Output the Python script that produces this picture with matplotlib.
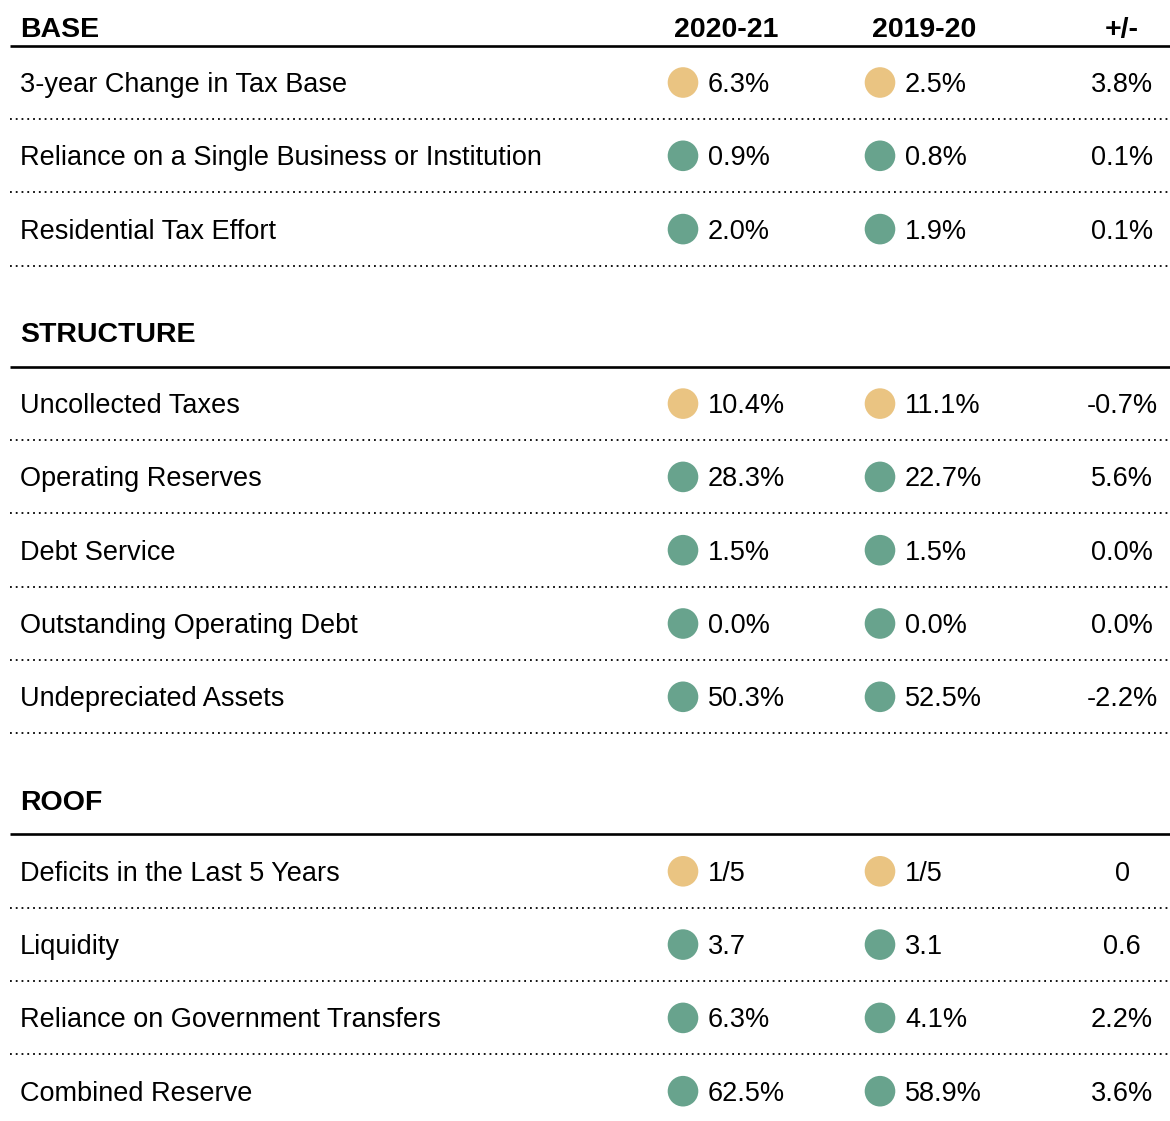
import matplotlib
matplotlib.use("Agg")
import matplotlib.pyplot as plt
from matplotlib.patches import Circle

plt.rcParams['font.family'] = ['Liberation Sans', 'DejaVu Sans']

# ---------------- data ----------------
columns = ["2020-21", "2019-20", "+/-"]
sections = ["BASE", "STRUCTURE", "ROOF"]

base_labels = ["3-year Change in Tax Base",
               "Reliance on a Single Business or Institution",
               "Residential Tax Effort"]
base_cur = ["6.3%", "0.9%", "2.0%"]
base_prev = ["2.5%", "0.8%", "1.9%"]
base_diff = ["3.8%", "0.1%", "0.1%"]
base_cur_status = ["warn", "ok", "ok"]
base_prev_status = ["warn", "ok", "ok"]

structure_labels = ["Uncollected Taxes", "Operating Reserves", "Debt Service",
                    "Outstanding Operating Debt", "Undepreciated Assets"]
structure_cur = ["10.4%", "28.3%", "1.5%", "0.0%", "50.3%"]
structure_prev = ["11.1%", "22.7%", "1.5%", "0.0%", "52.5%"]
structure_diff = ["-0.7%", "5.6%", "0.0%", "0.0%", "-2.2%"]
structure_cur_status = ["warn", "ok", "ok", "ok", "ok"]
structure_prev_status = ["warn", "ok", "ok", "ok", "ok"]

roof_labels = ["Deficits in the Last 5 Years", "Liquidity",
               "Reliance on Government Transfers", "Combined Reserve"]
roof_cur = ["1/5", "3.7", "6.3%", "62.5%"]
roof_prev = ["1/5", "3.1", "4.1%", "58.9%"]
roof_diff = ["0", "0.6", "2.2%", "3.6%"]
roof_cur_status = ["warn", "ok", "ok", "ok"]
roof_prev_status = ["warn", "ok", "ok", "ok"]

# ---------------- style ----------------
STATUS_COLORS = {"warn": "#EAC482", "ok": "#68A38D"}
W, H = 1170, 1121
ROW_H = 73.3
X0, X1 = 10, 1170
LABEL_X = 20
DOT_X = [683, 880]
VAL_X = [708, 905]
HEAD_X = [726, 924]
DIFF_X = 1122
DOT_R = 15.3
BODY_FS = 19.5
HEAD_FS = 20.5

fig = plt.figure(figsize=(W / 100, H / 100), dpi=100)
ax = fig.add_axes([0, 0, 1, 1])
ax.set_xlim(0, W)
ax.set_ylim(H, 0)
ax.axis("off")

blocks = [
    (base_labels, base_cur, base_prev, base_diff, base_cur_status, base_prev_status),
    (structure_labels, structure_cur, structure_prev, structure_diff,
     structure_cur_status, structure_prev_status),
    (roof_labels, roof_cur, roof_prev, roof_diff, roof_cur_status, roof_prev_status),
]

y_line = 45.5  # first header solid line
for si, (name, blk) in enumerate(zip(sections, blocks)):
    labels, cur, prev, diff, cst, pst = blk
    head_base = y_line - (8.5 if si == 0 else 24.5)
    ax.text(LABEL_X, head_base, name, fontsize=HEAD_FS, fontweight="bold",
            va="baseline", ha="left", color="black")
    if si == 0:
        for hx, col in zip(HEAD_X + [DIFF_X], columns):
            ax.text(hx, head_base, col, fontsize=HEAD_FS, fontweight="bold",
                    va="baseline", ha="center", color="black")
    ax.plot([X0, X1], [y_line, y_line], color="black", lw=1.9,
            solid_capstyle="butt")
    n = len(labels)
    for i in range(n):
        yc = y_line + 37 + i * ROW_H
        yb = yc + 9.5
        ax.text(LABEL_X, yb, labels[i], fontsize=BODY_FS, va="baseline",
                ha="left", color="black")
        for k, (vals, sts) in enumerate([(cur, cst), (prev, pst)]):
            ax.add_patch(Circle((DOT_X[k], yc), DOT_R,
                                color=STATUS_COLORS[sts[i]], lw=0))
            ax.text(VAL_X[k], yb, vals[i], fontsize=BODY_FS, va="baseline",
                    ha="left", color="black")
        ax.text(DIFF_X, yb, diff[i], fontsize=BODY_FS, va="baseline",
                ha="center", color="black")
        if not (si == len(sections) - 1 and i == n - 1):
            yd = yc + 36.5
            ax.plot([X0, X1], [yd, yd], color="black", lw=1.3,
                    linestyle=(0, (1, 2.2)), dash_capstyle="butt")
    last_dot = y_line + 37 + (n - 1) * ROW_H + 36.5
    y_line = last_dot + 101

fig.savefig("out.png", dpi=100, facecolor="white")
